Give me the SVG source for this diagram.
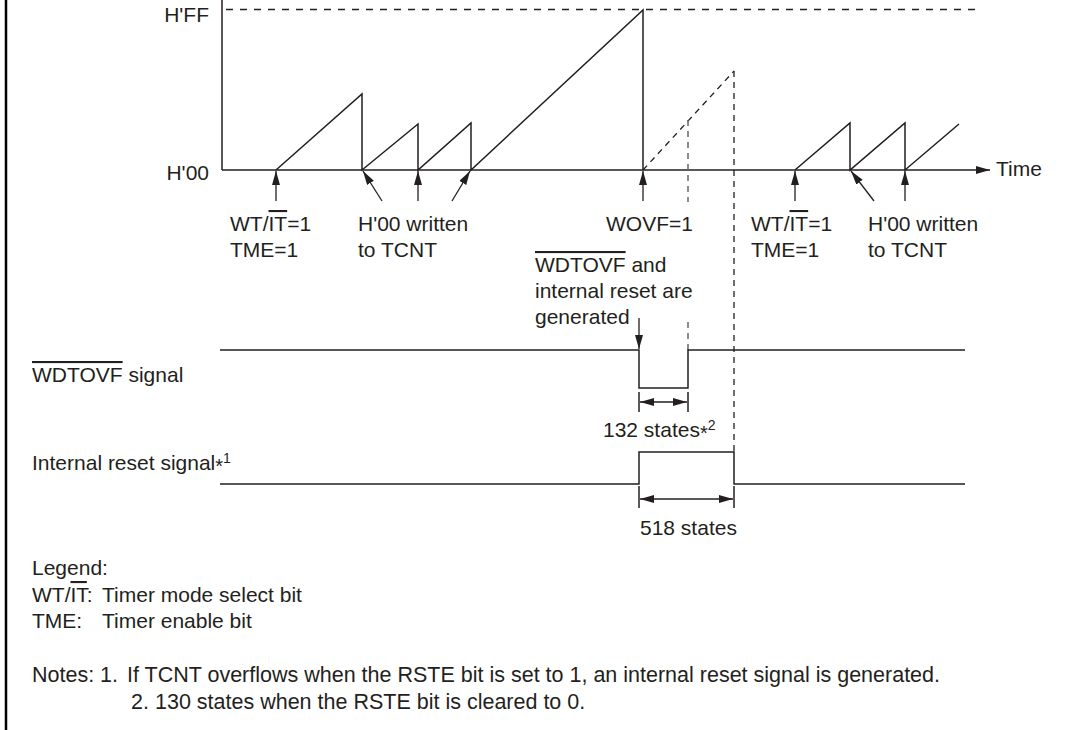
<svg xmlns="http://www.w3.org/2000/svg" width="1068" height="730" viewBox="0 0 1068 730">
<defs>
<marker id="ah" viewBox="0 0 14 8" refX="14" refY="4" markerWidth="14" markerHeight="8" markerUnits="userSpaceOnUse" orient="auto-start-reverse">
<path d="M0,0 L14,4 L0,8 Z" fill="#231f20"/>
</marker>
</defs>
<style>
text{font-family:"Liberation Sans",Arial,sans-serif;font-size:21px;fill:#231f20}
.ln{stroke:#231f20;stroke-width:1.5;fill:none}
.dash{stroke:#231f20;stroke-width:1.3;fill:none;stroke-dasharray:6 5}
.gdash{stroke:#666;stroke-width:1.5;fill:none;stroke-dasharray:6 5}
.arr{stroke:#231f20;stroke-width:1.3;fill:none;marker-end:url(#ah)}
.dim{stroke:#231f20;stroke-width:1.3;fill:none;marker-start:url(#ah);marker-end:url(#ah)}
.ol{text-decoration:overline}
.star{font-size:20px}
.sup{font-size:14px}
.note{font-size:21.5px}
</style>
<rect width="1068" height="730" fill="#fff"/>
<line x1="6" y1="0" x2="6" y2="730" stroke="#000" stroke-width="2.5"/>

<g id="axes">
<line class="ln" x1="222" y1="0" x2="222" y2="170"/>
<line class="ln" x1="222" y1="170" x2="990" y2="170" style="marker-end:url(#ah)"/>
<line class="dash" x1="226" y1="9.5" x2="976" y2="9.5" style="stroke-dasharray:7 7"/>
<text x="209" y="22" text-anchor="end">H'FF</text>
<text x="209" y="180" text-anchor="end">H'00</text>
<text x="996" y="176">Time</text>
</g>

<g id="counter">
<polyline class="ln" points="276,170 362,94 362,170 418,124 418,170 471,123 471,170 643,10 643,170"/>
<polyline class="ln" points="795,170 850,123 850,170 905,123 905,170 959,124"/>
<line class="dash" x1="643" y1="170" x2="734" y2="71"/>
</g>

<g id="connectors">
<line class="arr" x1="276" y1="201" x2="276" y2="171"/>
<line class="arr" x1="382" y1="201" x2="363" y2="171"/>
<line class="arr" x1="418" y1="201" x2="418" y2="171"/>
<line class="arr" x1="452" y1="201" x2="470" y2="171"/>
<line class="arr" x1="643" y1="201" x2="643" y2="171"/>
<line class="arr" x1="795" y1="201" x2="795" y2="171"/>
<line class="arr" x1="874" y1="201" x2="851" y2="171"/>
<line class="arr" x1="905" y1="201" x2="905" y2="171"/>
<line class="arr" x1="639" y1="318" x2="639" y2="349"/>
<line class="gdash" x1="688" y1="120" x2="688" y2="202"/>
<line class="gdash" x1="688" y1="322" x2="688" y2="350"/>
<line class="dash" x1="734" y1="71" x2="734" y2="452"/>
<line class="ln" x1="639" y1="392" x2="639" y2="412"/>
<line class="ln" x1="688" y1="392" x2="688" y2="412"/>
<line class="dim" x1="640" y1="402" x2="687" y2="402"/>
<line class="ln" x1="639" y1="486" x2="639" y2="508"/>
<line class="ln" x1="734" y1="486" x2="734" y2="508"/>
<line class="dim" x1="640" y1="499" x2="733" y2="499"/>
</g>

<g id="labels">
<text x="230" y="231">WT/<tspan class="ol">IT</tspan>=1</text>
<text x="230" y="257">TME=1</text>
<text x="358" y="231">H'00 written</text>
<text x="358" y="257">to TCNT</text>
<text x="606" y="231">WOVF=1</text>
<text x="535" y="272"><tspan class="ol">WDTOVF</tspan> and</text>
<text x="535" y="298">internal reset are</text>
<text x="535" y="324">generated</text>
<text x="751" y="231">WT/<tspan class="ol">IT</tspan>=1</text>
<text x="751" y="257">TME=1</text>
<text x="868" y="231">H'00 written</text>
<text x="868" y="257">to TCNT</text>
</g>

<g id="wdtovf">
<polyline class="ln" points="220,350 639,350 639,388 688,388 688,350 965,350"/>
<text x="32" y="382"><tspan class="ol">WDTOVF</tspan> signal</text>
<text x="603" y="437">132 states<tspan class="star" dy="3">*</tspan><tspan class="sup" dy="-10">2</tspan></text>
</g>

<g id="reset">
<polyline class="ln" points="220,484 639,484 639,452 734,452 734,484 965,484"/>
<text x="32" y="470">Internal reset signal<tspan class="star" dy="3">*</tspan><tspan class="sup" dy="-10">1</tspan></text>
<text x="640" y="535">518 states</text>
</g>

<g id="legend">
<text x="32" y="575">Legend:</text>
<text x="32" y="602">WT/<tspan class="ol">IT</tspan>:</text>
<text x="102" y="602">Timer mode select bit</text>
<text x="32" y="628">TME:</text>
<text x="102" y="628">Timer enable bit</text>
<text class="note" x="32" y="682">Notes:</text>
<text class="note" x="100" y="682">1.</text>
<text class="note" x="127" y="682">If TCNT overflows when the RSTE bit is set to 1, an internal reset signal is generated.</text>
<text class="note" x="131" y="709">2.</text>
<text class="note" x="155" y="709">130 states when the RSTE bit is cleared to 0.</text>
</g>
</svg>
